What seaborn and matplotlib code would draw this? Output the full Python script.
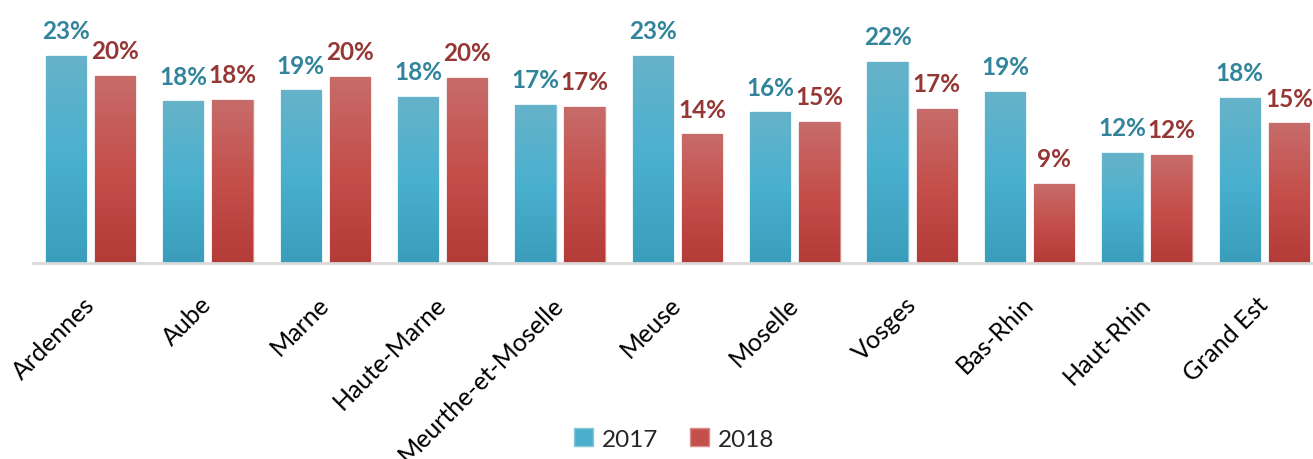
import numpy as np
import pandas as pd
import matplotlib
matplotlib.use("Agg")
import matplotlib.pyplot as plt
from matplotlib.colors import LinearSegmentedColormap
from matplotlib.patches import Patch
import seaborn as sns

departements = ["Ardennes", "Aube", "Marne", "Haute-Marne", "Meurthe-et-Moselle",
                "Meuse", "Moselle", "Vosges", "Bas-Rhin", "Haut-Rhin", "Grand Est"]
years = ["2017", "2018"]
values_2017 = [22.6, 17.6, 18.8, 18.1, 17.2, 22.6, 16.4, 21.9, 18.6, 12.0, 18.0]
values_2018 = [20.4, 17.8, 20.3, 20.2, 17.0, 14.0, 15.4, 16.8, 8.6, 11.8, 15.2]

df = pd.DataFrame({
    "dept": departements * 2,
    "year": [years[0]] * len(departements) + [years[1]] * len(departements),
    "value": values_2017 + values_2018,
})

sns.set_theme(style="white")
plt.rcParams["font.family"] = ["Lato", "DejaVu Sans"]

mid_colors = {"2017": "#4aafcd", "2018": "#c4504c"}
grad_stops = {
    "2017": ["#66b3c9", "#4ab0cf", "#3a9dbc"],
    "2018": ["#c76c6a", "#c44f4b", "#b33b38"],
}
edge_colors = {"2017": "#86c7da", "2018": "#d98e8c"}
label_colors = {"2017": "#31849b", "2018": "#953735"}

fig = plt.figure(figsize=(13.13, 4.6), dpi=100)
ax = fig.add_axes([33 / 1313, (460 - 263.5) / 460, 1290 / 1313, 263.5 / 460])

sns.barplot(data=df, x="dept", y="value", hue="year", order=departements,
            hue_order=years, palette=mid_colors, width=0.838, gap=0.18,
            legend=False, ax=ax, saturation=1)

for cont, yr in zip(ax.containers, years):
    cmap = LinearSegmentedColormap.from_list("g" + yr, grad_stops[yr][::-1])
    for p in cont.patches:
        p.set_edgecolor(edge_colors[yr])
        p.set_linewidth(1.0)
        x0, y0 = p.get_x(), p.get_y()
        w, h = p.get_width(), p.get_height()
        grad = np.linspace(0, 1, 256).reshape(-1, 1)
        im = ax.imshow(grad, extent=[x0, x0 + w, 0, h], origin="lower",
                       aspect="auto", cmap=cmap, zorder=p.get_zorder() + 0.1,
                       interpolation="bicubic")
        im.set_clip_path(p)
    ax.bar_label(cont, labels=[f"{v:.0f}%" for v in cont.datavalues],
                 padding=10, fontsize=17.5, fontweight="bold",
                 color=label_colors[yr])

ax.set_xlim(-0.49, 10.5)
ax.set_ylim(0, 28.8)
ax.set_xlabel("")
ax.set_ylabel("")
ax.set_yticks([])
for s in ["top", "right", "left"]:
    ax.spines[s].set_visible(False)
ax.spines["bottom"].set_color("#d9d9d9")
ax.spines["bottom"].set_linewidth(2)
ax.spines["bottom"].set_zorder(5)
ax.tick_params(axis="x", length=0, pad=27)
ax.set_xticks(range(len(departements)))
ax.set_xticklabels(departements, rotation=45, ha="right", va="center",
                   rotation_mode="anchor", fontsize=18, color="black")

handles = [Patch(facecolor=mid_colors[y], edgecolor=edge_colors[y], label=y) for y in years]
fig.legend(handles=handles, loc="center", bbox_to_anchor=(674.5 / 1313, 20 / 460),
           ncol=2, frameon=False, fontsize=17.5, handlelength=0.75, handleheight=0.75,
           handletextpad=0.4, columnspacing=1.3)

fig.savefig("out.png", dpi=100)
